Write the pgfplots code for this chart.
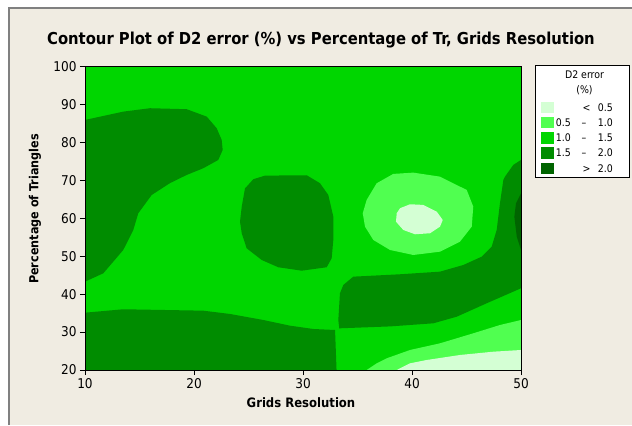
\documentclass[border=0pt]{standalone}
\usepackage{pgfplots}
\pgfplotsset{compat=1.18}
\usepackage{fontspec}
\setmainfont{DejaVu Sans Condensed}[BoldFont={DejaVu Sans Condensed Bold}]
\definecolor{bgbeige}{RGB}{240,236,226}
\definecolor{cA}{RGB}{212,255,212}
\definecolor{cB}{RGB}{80,255,80}
\definecolor{cC}{RGB}{0,214,0}
\definecolor{cD}{RGB}{0,140,0}
\definecolor{cE}{RGB}{0,100,0}
\begin{document}
\begin{tikzpicture}[x=1bp,y=1bp]
\useasboundingbox (-85,-55) rectangle (547,370);
\fill[white] (-85,-55) rectangle (547,370);
\fill[bgbeige] (-76,-55) rectangle (547,362);
\draw[gray, line width=1.5bp] (-76,-55) -- (-76,362) -- (547,362);
\begin{axis}[
  at={(0,0)}, anchor=south west, scale only axis,
  width=436bp, height=303.3bp,
  xmin=10, xmax=50, ymin=20, ymax=100,
  xtick={10,20,30,40,50}, ytick={20,30,...,100},
  tick pos=left, tick align=outside, major tick length=5bp,
  axis background/.style={fill=cC},
  axis line style={black, line width=0.8bp},
  tick style={black, line width=0.8bp},
  ticklabel style={font=\fontsize{13.5}{13.5}\selectfont},
  /pgf/number format/assume math mode=true,
  axis on top,
]
% top-left 1.5-2.0
\addplot[draw=none, fill=cD, forget plot] coordinates {
(9,85.96)(10,85.96)(13.51,88.15)(15.96,89.05)(19.33,88.79)(21.17,86.83)(22.08,83.77)(22.54,80.69)(22.63,78.05)(22.23,75.41)(20.85,73.22)(19.33,71.45)(17.8,69.3)(16.12,66.17)(14.89,61.35)(14.43,56.94)(13.51,51.66)(11.68,45.51)(10,43.3)(9,43.0)};
% middle blob 1.5-2.0
\addplot[draw=none, fill=cD, forget plot] coordinates {
(24.68,67.95)(24.38,63.09)(24.22,59.13)(24.38,56.07)(24.83,52.11)(26.21,49.02)(27.73,47.1)(29.88,46.2)(32.17,47.1)(32.63,49.47)(32.78,54.3)(32.78,60.45)(32.32,66.17)(31.56,69.26)(30.34,71.37)(26.51,71.27)(25.44,70.32)(24.83,68.37)};
% bottom-left band 1.5-2.0
\addplot[draw=none, fill=cD, forget plot] coordinates {
(9,35.12)(10,35.12)(13.51,36.02)(20.85,35.65)(23.3,34.78)(26.36,33.19)(28.81,31.69)(30.94,30.82)(32.94,30.55)(33.09,19)(9,19)};
% right band 1.5-2.0
\addplot[draw=none, fill=cD, forget plot] coordinates {
(33.33,30.9)(33.24,33.19)(33.39,40.24)(33.7,42.43)(34.61,44.62)(38.9,45.25)(42.57,45.94)(44.71,47.7)(46.39,49.89)(47.31,52.53)(47.77,56.94)(48.07,63.98)(48.38,70.13)(48.53,71.0)(49.29,74.09)(50,75.41)(51,76)(51,41.56)(50,41.56)(46.85,37.6)(44.1,34.06)(41.96,32.32)(38,31.5)(33.39,31.0)};
% darkest > 2.0
\addplot[draw=none, fill=cE, forget plot] coordinates {
(51,66.62)(50,66.62)(49.54,63.98)(49.39,60.45)(49.61,55.17)(50,51.66)(51,51.66)};
% ring 0.5-1.0
\addplot[draw=none, fill=cB, forget plot] coordinates {
(35.48,61.35)(35.69,57.81)(36.45,54.3)(37.98,51.66)(40.12,50.34)(42.57,51.21)(44.4,53.85)(45.48,57.81)(45.62,63.09)(45.02,67.5)(44.4,68.37)(42.57,71.0)(40.12,72.06)(38.28,71.72)(36.76,69.26)(35.84,64.86)};
% inner < 0.5
\addplot[draw=none, fill=cA, forget plot] coordinates {
(38.6,61.35)(38.9,62.67)(39.82,63.72)(41.04,63.54)(42.27,61.77)(42.82,59.58)(42.57,57.81)(41.65,56.07)(40.28,55.8)(39.2,56.94)(38.53,59.13)};
% bottom-right 0.5-1.0
\addplot[draw=none, fill=cB, forget plot] coordinates {
(35.84,19)(35.84,20)(36.76,21.77)(37.68,23.09)(39.82,25.28)(42.57,27.04)(45.62,29.68)(48.07,31.87)(50,33.19)(51,33.4)(51,19)};
% bottom-right < 0.5
\addplot[draw=none, fill=cA, forget plot] coordinates {
(38.6,19)(38.6,20)(39.82,21.77)(41.35,22.64)(44.4,23.96)(47.46,24.83)(50,25.28)(51,25.3)(51,19)};
\end{axis}
% title and labels
\node[anchor=base, font=\bfseries\fontsize{16.5}{16.5}\selectfont, inner sep=0pt] at (236,326) {Contour Plot of D2 error (\%) vs Percentage of Tr, Grids Resolution};
\node[anchor=base, font=\bfseries\fontsize{13}{13}\selectfont, inner sep=0pt] at (216,-37.7) {Grids Resolution};
\node[rotate=90, anchor=center, font=\bfseries\fontsize{12.5}{12.5}\selectfont, inner sep=0pt] at (-50,161) {Percentage of Triangles};
% legend
\draw[black, line width=0.8bp, fill=white] (450.7,192.7) rectangle (544.5,305);
\node[anchor=base, font=\fontsize{10.5}{10.5}\selectfont, inner sep=0pt] at (499.5,291.7) {D2 error};
\node[anchor=base, font=\fontsize{10.5}{10.5}\selectfont, inner sep=0pt] at (499.5,276.7) {(\%)};
\fill[cA] (455.5,257) rectangle (468.5,268.5);
\fill[cB] (455.5,241.7) rectangle (468.5,253.2);
\fill[cC] (455.5,226.4) rectangle (468.5,237.9);
\fill[cD] (455.5,211.1) rectangle (468.5,222.6);
\fill[cE] (455.5,195.8) rectangle (468.5,207.3);
\begin{scope}[every node/.style={font=\fontsize{10.5}{10.5}\selectfont, inner sep=0pt}]
\node[anchor=base] at (501.5,259) {<};
\node[anchor=base east] at (528,259) {0.5};
\node[anchor=base east] at (486,243.7) {0.5};
\node[anchor=base] at (499,243.7) {--};
\node[anchor=base east] at (528,243.7) {1.0};
\node[anchor=base east] at (486,228.4) {1.0};
\node[anchor=base] at (499,228.4) {--};
\node[anchor=base east] at (528,228.4) {1.5};
\node[anchor=base east] at (486,213.1) {1.5};
\node[anchor=base] at (499,213.1) {--};
\node[anchor=base east] at (528,213.1) {2.0};
\node[anchor=base] at (501.5,197.8) {>};
\node[anchor=base east] at (528,197.8) {2.0};
\end{scope}
\end{tikzpicture}
\end{document}
